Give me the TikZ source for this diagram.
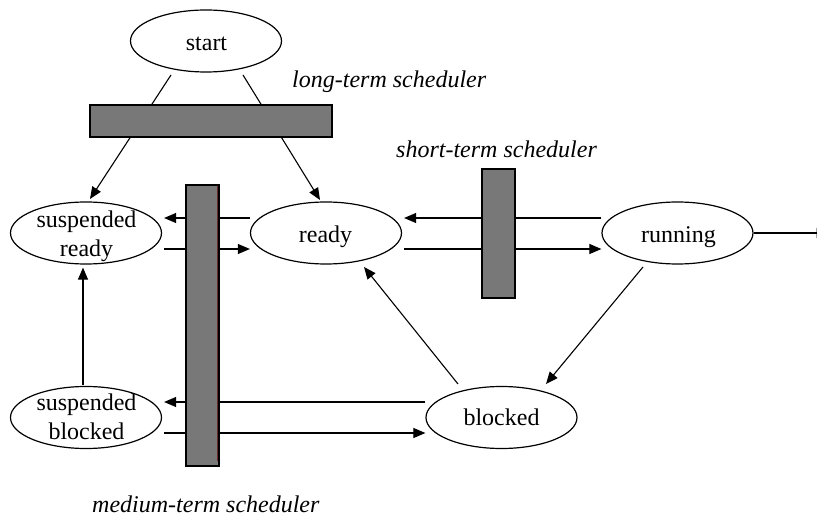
\documentclass[tikz,border=0pt]{standalone}
\usepackage{fontspec}
\setmainfont{Liberation Serif}
\usetikzlibrary{arrows.meta,shapes.geometric,calc}

\definecolor{barfill}{RGB}{120,120,120}
\definecolor{baredge}{RGB}{105,40,40}

\begin{document}
\begin{tikzpicture}[x=1pt,y=-1pt,
  state/.style={ellipse,draw,line width=1.2pt,minimum width=151pt,minimum height=62pt,inner sep=0pt},
  lbl/.style={anchor=base,inner sep=0pt,font=\fontsize{24}{29}\selectfont},
  schedlbl/.style={anchor=base west,inner sep=0pt,font=\fontsize{24}{29}\selectfont\itshape},
  schedbar/.style={draw,line width=1.2pt,fill=barfill,inner sep=0pt},
  flow/.style={line width=1.1pt,-{Triangle[length=12pt,width=10pt]}}]

\useasboundingbox (0,0) rectangle (817,518);

% process states
\node[state] (start)    at (206,41)    {};
\node[state] (sready)   at (86,233)    {};
\node[state] (ready)    at (326,233)   {};
\node[state] (running)  at (677.5,233) {};
\node[state] (sblocked) at (86,417.5)  {};
\node[state] (blocked)  at (501.5,417.5) {};

% state names
\node[lbl] (start-t)   at (206.5,51) {start};
\node[lbl] (ready-t)   at (325.5,243) {ready};
\node[lbl] (running-t) at (678.5,243) {running};
\node[lbl] (blocked-t) at (501.5,426) {blocked};
\node[lbl] (sready-t)  at (86.5,228) {\begin{tabular}[t]{@{}c@{}}suspended\\ready\end{tabular}};
\node[lbl] (sblocked-t) at (86.5,411) {\begin{tabular}[t]{@{}c@{}}suspended\\blocked\end{tabular}};

% transitions (drawn beneath the scheduler bars)
\draw[flow] ($(start.center)+(-35,34)$) -- ($(sready.center)+(4,-34)$);
\draw[flow] ($(start.center)+(37,34)$) -- ($(ready.center)+(-6,-33)$);

\draw[flow] ($(ready.west)+(0,-15)$) -- ($(sready.east)+(2,-15)$);
\draw[flow] ($(sready.east)+(2,16)$) -- ($(ready.west)+(0,16)$);

\draw[flow] ($(running.west)+(0,-15)$) -- ($(ready.east)+(2,-15)$);
\draw[flow] ($(ready.east)+(2,16)$) -- ($(running.west)+(0,16)$);

\draw[flow] (running.east) -- ($(running.east)+(75,0)$);

\draw[flow] ($(sblocked.north)+(-3,-1)$) -- ($(sready.south)+(-3,3)$);

\draw[flow] ($(blocked.west)+(0,-15.5)$) -- ($(sblocked.east)+(2,-15.5)$);
\draw[flow] ($(sblocked.east)+(2,15.5)$) -- ($(blocked.west)+(0,15.5)$);

\draw[flow] ($(blocked.center)+(-43.5,-33.5)$) -- ($(ready.center)+(38,34)$);
\draw[flow] ($(running.center)+(-34.5,34)$) -- ($(blocked.center)+(44.5,-33.5)$);

% schedulers
\node[schedbar,minimum width=242pt,minimum height=32pt]  (ltbar) at (211,121)     {};
\node[schedbar,minimum width=33pt,minimum height=129pt]  (stbar) at (498.5,233.5) {};
\node[schedbar,minimum width=33pt,minimum height=281pt]  (mtbar) at (202.5,325.5) {};
\draw[baredge,line width=1.2pt] ([xshift=-2.4pt,yshift=-2pt]mtbar.north east) -- ([xshift=-2.4pt,yshift=6pt]mtbar.south east);

\node[schedlbl] (lt-t) at (292,88)  {long-term scheduler};
\node[schedlbl] (st-t) at (396,158) {short-term scheduler};
\node[schedlbl] (mt-t) at (92,512)  {medium-term scheduler};
\end{tikzpicture}
\end{document}
